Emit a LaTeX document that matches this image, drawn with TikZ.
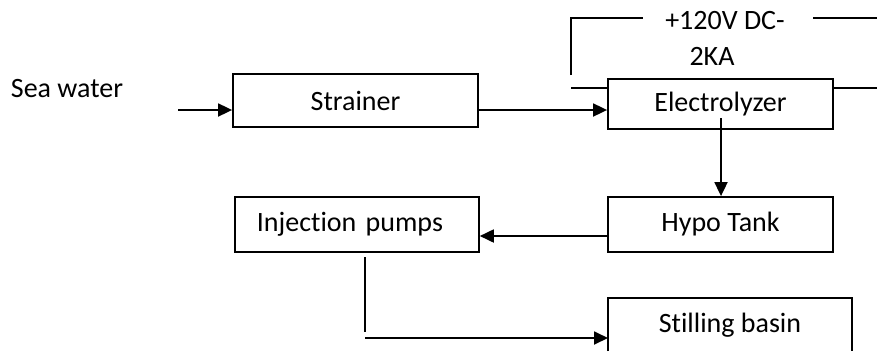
\documentclass[tikz,border=0pt]{standalone}
\usepackage{fontspec}
\setmainfont{Carlito}[RawFeature={-liga}]
\usetikzlibrary{arrows.meta,calc}
\begin{document}
\begin{tikzpicture}[x=1pt,y=-1pt,
  every node/.style={font=\fontsize{28}{32}\selectfont},
  box/.style={draw, line width=1.8pt, inner sep=0pt},
  conn/.style={line width=1.8pt},
  arr/.style={conn, -{Triangle[length=14pt,width=13pt]}}]
\useasboundingbox (0,0) rectangle (877,351);
% nodes
\node (sea) at (67,89) {Sea water};
\node[box, minimum width=245pt, minimum height=53pt] (strainer) at (355.5,100.5) {Strainer};
\node[box, minimum width=225pt, minimum height=50pt] (electro) at (720.5,104) {Electrolyzer};
\node[box, minimum width=225pt, minimum height=55pt] (hypo) at (720.5,224.5) {Hypo Tank};
\node[box, anchor=west, text width=200pt, inner xsep=22pt, align=left, minimum height=55pt] (inj) at (234,224.5) {Injection pumps};
\node (stilling) at (730,325) {Stilling basin};
\node (volt) at (725,21) {+120V DC-};
\node (amp) at (712,56) {2KA};
% stilling basin open box
\draw[conn] (608,351) -- (608,298) -- (852,298) -- (852,351);
% coordinates
\coordinate (sin) at (178,110);
\coordinate (row1) at (0,110);
\coordinate (row2) at (0,236);
\coordinate (pwr) at (0,88);
\coordinate (eout) at (721,118);
\coordinate (ibot) at (365,257);
\coordinate (icor) at (365,332);
\coordinate (hstart) at (365,338);
\coordinate (plt) at (571,75);
\coordinate (plc) at (571,18);
\coordinate (ple) at (643,18);
\coordinate (prs) at (813,18);
\coordinate (pre) at (877,18);
\coordinate (pls) at (571,88);
\coordinate (prr) at (877,88);
% connectors
\draw[arr] (sin) -- (sin -| strainer.west);
\draw[arr] (strainer.east |- row1) -- (electro.west |- row1);
\draw[arr] (eout) -- (eout |- hypo.north);
\draw[arr] (hypo.west |- row2) -- (inj.east |- row2);
\draw[conn] (ibot) -- (icor);
\draw[arr] (hstart) -- (hstart -| 608,0);
% power leads
\draw[conn] (plt) -- (plc) -- (ple);
\draw[conn] (prs) -- (pre);
\draw[conn] (pls) -- (electro.west |- pls);
\draw[conn] (electro.east |- pls) -- (prr);
\end{tikzpicture}
\end{document}
